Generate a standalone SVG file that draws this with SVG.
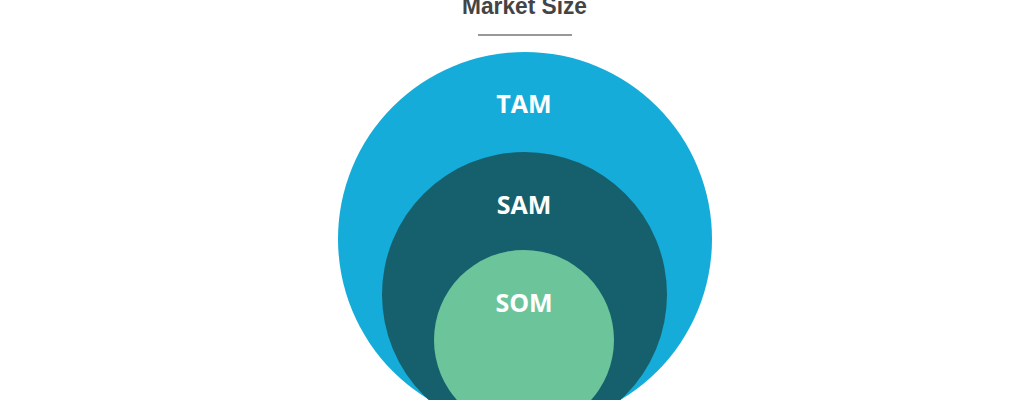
<svg xmlns="http://www.w3.org/2000/svg" width="1024" height="400" viewBox="0 0 1024 400">
<style>
.lbl{font-family:"Open Sans","Noto Sans",sans-serif;font-weight:bold;font-size:25px;fill:#fff;text-anchor:middle}
</style>
<rect width="1024" height="400" fill="#fff"/>
<text x="524.5" y="14" font-family="'Liberation Sans',sans-serif" font-weight="bold" font-size="24" fill="#444" text-anchor="middle" textLength="125" lengthAdjust="spacingAndGlyphs">Market Size</text>
<line x1="478" y1="35" x2="572" y2="35" stroke="#333" stroke-width="1.2"/>
<g id="tam"><circle cx="525" cy="239" r="187" fill="#16acd9"/><text class="lbl" x="524" y="113">TAM</text></g>
<g id="sam"><circle cx="524.5" cy="294.5" r="142.5" fill="#15606c"/><text class="lbl" x="524" y="214">SAM</text></g>
<g id="som"><circle cx="524" cy="340" r="90" fill="#6cc59a"/><text class="lbl" x="524" y="312">SOM</text></g>
<g id="connectors"/>
</svg>
